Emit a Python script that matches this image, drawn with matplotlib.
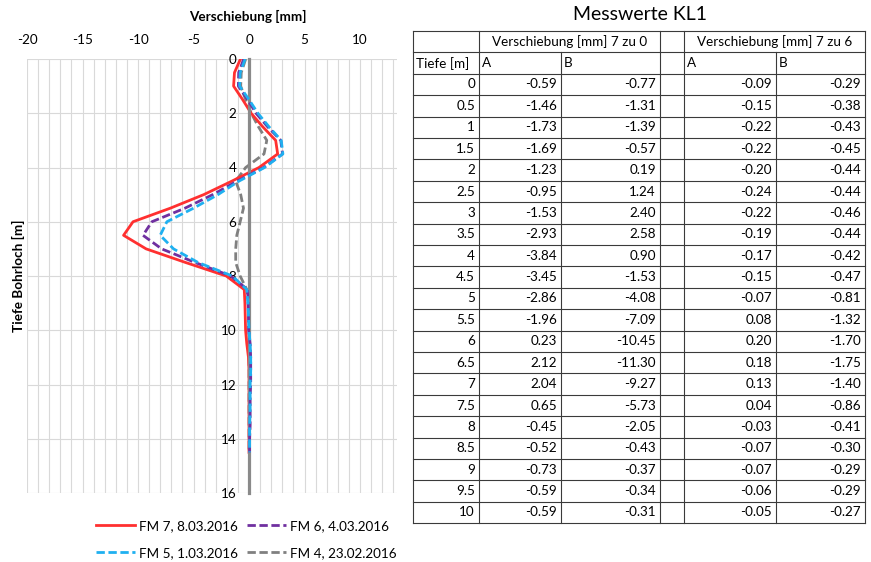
import matplotlib
matplotlib.use('Agg')
import matplotlib.pyplot as plt
from matplotlib.ticker import MultipleLocator

plt.rcParams['font.family'] = ['Lato', 'DejaVu Sans']
plt.rcParams['axes.unicode_minus'] = False

### chart data (Verschiebung in mm over Tiefe in m)
depth = [0, 0.5, 1, 1.5, 2, 2.5, 3, 3.5, 4, 4.5, 5, 5.5, 6, 6.5, 7, 7.5,
         8, 8.5, 9, 9.5, 10, 10.5, 11, 11.5, 12, 12.5, 13, 13.5, 14, 14.5]
fm7 = [-0.77, -1.31, -1.39, -0.57, 0.19, 1.24, 2.40, 2.58, 0.90, -1.53, -4.08, -7.09,
       -10.45, -11.30, -9.27, -5.73, -2.05, -0.43, -0.37, -0.34, -0.31, -0.2, -0.05,
       0.0, 0.0, 0.0, 0.0, 0.0, 0.0, 0.0]
fm6 = [-0.48, -0.93, -0.96, -0.12, 0.63, 1.68, 2.86, 3.02, 1.32, -1.06, -3.27, -5.77,
       -8.75, -9.55, -7.87, -4.87, -1.64, -0.13, -0.08, -0.05, -0.04, 0.1, 0.15,
       0.15, 0.15, 0.1, 0.1, 0.1, 0.05, 0.05]
fm5 = [-0.35, -0.8, -0.85, 0.0, 0.8, 1.8, 2.9, 3.05, 1.4, -0.9, -2.8, -5.0,
       -7.4, -8.0, -6.8, -4.6, -1.5, -0.2, -0.1, -0.05, 0.0, 0.1, 0.15,
       0.15, 0.1, 0.1, 0.1, 0.05, 0.05, 0.05]
fm4 = [-0.3, -0.7, -0.75, -0.3, 0.2, 0.85, 1.6, 1.35, -0.3, -1.2, -0.75, -0.5,
       -0.8, -1.1, -1.2, -1.2, -0.8, -0.2, -0.05, 0.0, 0.0, 0.0, 0.0,
       0.0, 0.0, 0.0, 0.0, 0.0, 0.0, 0.0]

### table data
tiefe = [0, 0.5, 1, 1.5, 2, 2.5, 3, 3.5, 4, 4.5, 5, 5.5, 6, 6.5, 7, 7.5, 8, 8.5, 9, 9.5, 10]
a70 = [-0.59, -1.46, -1.73, -1.69, -1.23, -0.95, -1.53, -2.93, -3.84, -3.45, -2.86,
       -1.96, 0.23, 2.12, 2.04, 0.65, -0.45, -0.52, -0.73, -0.59, -0.59]
b70 = [-0.77, -1.31, -1.39, -0.57, 0.19, 1.24, 2.40, 2.58, 0.90, -1.53, -4.08,
       -7.09, -10.45, -11.30, -9.27, -5.73, -2.05, -0.43, -0.37, -0.34, -0.31]
a76 = [-0.09, -0.15, -0.22, -0.22, -0.20, -0.24, -0.22, -0.19, -0.17, -0.15, -0.07,
       0.08, 0.20, 0.18, 0.13, 0.04, -0.03, -0.07, -0.07, -0.06, -0.05]
b76 = [-0.29, -0.38, -0.43, -0.45, -0.44, -0.44, -0.46, -0.44, -0.42, -0.47, -0.81,
       -1.32, -1.70, -1.75, -1.40, -0.86, -0.41, -0.30, -0.29, -0.29, -0.27]

W, H = 871, 562
fs = 9.7
fig = plt.figure(figsize=(W / 100, H / 100), dpi=100)

# chart area in pixels: x 27..397, y 59..493
ax = fig.add_axes([27 / W, 1 - 493 / H, 370 / W, 434 / H])
ax.set_xlim(-20, 13.33)
ax.set_ylim(16, 0)

ax.xaxis.tick_top()
ax.xaxis.set_major_locator(MultipleLocator(5))
ax.xaxis.set_minor_locator(MultipleLocator(1))
ax.yaxis.set_major_locator(MultipleLocator(2))
ax.tick_params(axis='both', which='both', length=0, labelsize=fs, colors='#000000')
ax.tick_params(axis='x', pad=9)
ax.tick_params(axis='y', pad=9)
ax.grid(True, axis='x', which='both', color='#d9d9d9', lw=0.8)
ax.grid(True, axis='y', which='major', color='#d9d9d9', lw=0.8)
ax.set_axisbelow(True)

for s in ['top', 'right', 'bottom']:
    ax.spines[s].set_visible(False)
ax.spines['left'].set_position(('data', 0))
ax.spines['left'].set_color('#8a8a8a')
ax.spines['left'].set_linewidth(2.3)

ax.set_xlabel('Verschiebung [mm]', fontsize=fs, fontweight='bold', va='center')
ax.xaxis.set_label_coords((248 - 27) / 370, (493 - 16) / 434)
ax.set_ylabel('Tiefe Bohrloch [m]', fontsize=fs, fontweight='bold', va='center')
ax.yaxis.set_label_coords((18 - 27) / 370, 0.5)

dash = (3, 1.3)
l7, = ax.plot(fm7, depth, color='#ff3030', lw=2.0, zorder=2.2, label='FM 7, 8.03.2016')
l6, = ax.plot(fm6, depth, color='#7030a0', lw=2.0, dashes=dash, zorder=3.2, label='FM 6, 4.03.2016')
l5, = ax.plot(fm5, depth, color='#1fb0f0', lw=2.0, dashes=dash, zorder=3.4, label='FM 5, 1.03.2016')
l4, = ax.plot(fm4, depth, color='#808080', lw=2.0, dashes=dash, zorder=2.1, label='FM 4, 23.02.2016')

fig.legend([l7, l5, l6, l4], [l.get_label() for l in [l7, l5, l6, l4]],
           ncol=2, loc='upper left', bbox_to_anchor=(96 / W, 1 - 520 / H),
           frameon=False, fontsize=fs, handlelength=2.9, handletextpad=0.3,
           columnspacing=0.65, labelspacing=1.1, borderpad=0, borderaxespad=0)

### table, drawn in pixel coordinates
tb = fig.add_axes([0, 0, 1, 1])
tb.set_xlim(0, W)
tb.set_ylim(H, 0)
tb.axis('off')

cols = [413, 479, 561, 660, 684, 776, 865]
top = 31
rh = 21.4
nrows = 2 + len(tiefe)
bottom = top + nrows * rh
lc = '#3a3a3a'
lw = 0.8

for i in range(nrows + 1):
    y = top + i * rh
    tb.plot([cols[0], cols[-1]], [y, y], color=lc, lw=lw)
for j, x in enumerate(cols):
    y0 = top + rh if j in (2, 5) else top
    tb.plot([x, x], [y0, bottom], color=lc, lw=lw)

tb.text(640, 15, 'Messwerte KL1', fontsize=14, ha='center', va='center')
yc = top + rh / 2
tb.text((cols[1] + cols[3]) / 2, yc, 'Verschiebung [mm] 7 zu 0', fontsize=fs, ha='center', va='center')
tb.text((cols[4] + cols[6]) / 2, yc, 'Verschiebung [mm] 7 zu 6', fontsize=fs, ha='center', va='center')
yc = top + 1.5 * rh
for x, s in zip([cols[0], cols[1], cols[2], cols[4], cols[5]], ['Tiefe [m]', 'A', 'B', 'A', 'B']):
    tb.text(x + 3, yc, s, fontsize=fs, ha='left', va='center')

for i, t in enumerate(tiefe):
    yc = top + (2.5 + i) * rh
    tb.text(cols[1] - 4, yc, f'{t:g}', fontsize=fs, ha='right', va='center')
    tb.text(cols[2] - 4, yc, f'{a70[i]:.2f}', fontsize=fs, ha='right', va='center')
    tb.text(cols[3] - 4, yc, f'{b70[i]:.2f}', fontsize=fs, ha='right', va='center')
    tb.text(cols[5] - 4, yc, f'{a76[i]:.2f}', fontsize=fs, ha='right', va='center')
    tb.text(cols[6] - 4, yc, f'{b76[i]:.2f}', fontsize=fs, ha='right', va='center')

plt.savefig('out.png', dpi=100)
plt.close('all')
